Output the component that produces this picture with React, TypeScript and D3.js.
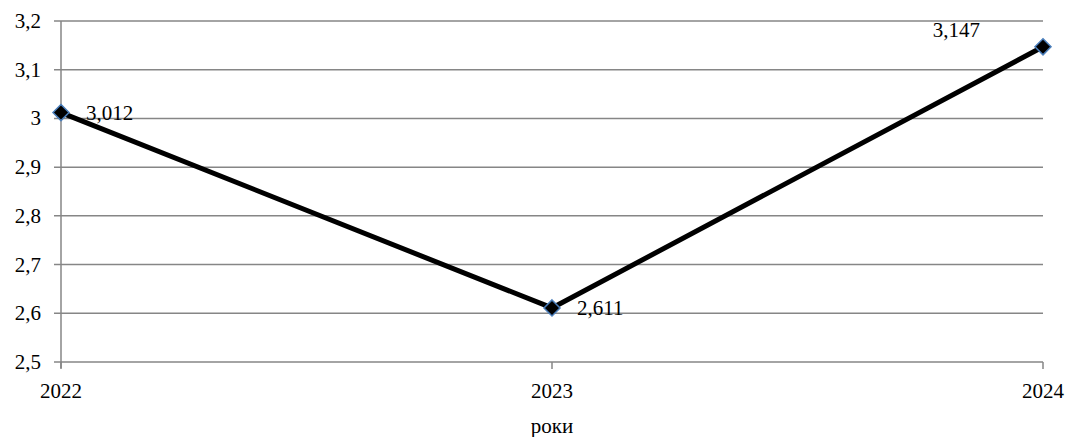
import React from "react";
import * as d3 from "d3";

const years = ["2022", "2023", "2024"];
const values = [3.012, 2.611, 3.147];
const valueLabels = ["3,012", "2,611", "3,147"];
const yTicks = [2.5, 2.6, 2.7, 2.8, 2.9, 3.0, 3.1, 3.2];
const axisTitle = "роки";

const W = 1068;
const H = 437;
const left = 61;
const right = 1043;
const top = 21;
const bottom = 362;

const FONT = '"Liberation Serif", "Times New Roman", Times, serif';

export default function App() {
  const x = d3.scalePoint<string>().domain(years).range([left, right]);
  const y = d3.scaleLinear().domain([2.5, 3.2]).range([bottom, top]);
  const line = d3
    .line<number>()
    .x((_, i) => x(years[i])!)
    .y((d) => y(d));
  const fmt = (v: number) => d3.format(".1f")(v).replace(".", ",").replace(/,0$/, "");
  const grid = "#868686";
  const ts: React.CSSProperties = { fontFamily: FONT, fontSize: "21px" };
  const labelPos = [
    { dx: 25, dy: 0, anchor: "start" },
    { dx: 25, dy: 0, anchor: "start" },
    { dx: -63, dy: -17, anchor: "end" },
  ];
  return (
    <svg
      width={W}
      height={H}
      style={{ position: "absolute", left: 0, top: 0, background: "#fff", fontFamily: FONT }}
    >
      {yTicks.map((t) => (
        <g key={t}>
          <line x1={left - 7} x2={right} y1={y(t)} y2={y(t)} stroke={grid} strokeWidth={1.5} />
          <text x={41} y={y(t)} textAnchor="end" dominantBaseline="central" style={ts}>
            {fmt(t)}
          </text>
        </g>
      ))}
      <line x1={left} x2={left} y1={top} y2={bottom + 6} stroke={grid} strokeWidth={1.5} />
      {years.map((yr) => (
        <g key={yr}>
          <line x1={x(yr)} x2={x(yr)} y1={bottom} y2={bottom + 7} stroke={grid} strokeWidth={1.5} />
          <text x={x(yr)} y={391} textAnchor="middle" dominantBaseline="central" style={ts}>
            {yr}
          </text>
        </g>
      ))}
      <text x={(left + right) / 2} y={426} textAnchor="middle" dominantBaseline="central" style={ts}>
        {axisTitle}
      </text>
      <path d={line(values)!} fill="none" stroke="#000" strokeWidth={5} strokeLinejoin="round" />
      {values.map((v, i) => {
        const cx = x(years[i])!;
        const cy = y(v);
        const r = 8;
        return (
          <g key={i}>
            <path
              d={`M${cx},${cy - r}L${cx + r},${cy}L${cx},${cy + r}L${cx - r},${cy}Z`}
              fill="#000"
              stroke="#4a7ebb"
              strokeWidth={1.5}
            />
            <text
              x={cx + labelPos[i].dx}
              y={cy + labelPos[i].dy}
              textAnchor={labelPos[i].anchor}
              dominantBaseline="central"
              style={ts}
            >
              {valueLabels[i]}
            </text>
          </g>
        );
      })}
    </svg>
  );
}
